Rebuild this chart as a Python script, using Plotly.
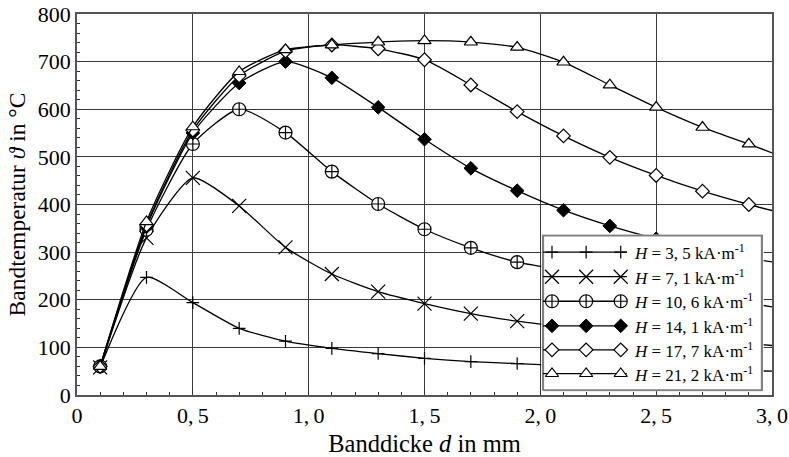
import plotly.graph_objects as go

# Band thickness d in mm (last value lies just beyond the axis end)
d = [0.1, 0.3, 0.5, 0.7, 0.9, 1.1, 1.3, 1.5, 1.7, 1.9, 2.1, 2.3, 2.5, 2.7, 2.9, 3.1]

# Band temperature in °C for each field strength H
t_h35 = [58, 247, 194, 140, 113, 98, 87, 77, 70, 66, 62, 59, 56, 53, 51, 49]
t_h71 = [58, 330, 456, 397, 310, 254, 217, 192, 171, 155, 143, 133, 124, 116, 108, 100]
t_h106 = [60, 347, 527, 600, 551, 469, 401, 348, 309, 279, 262, 243, 226, 210, 193, 177]
t_h141 = [60, 353, 550, 655, 700, 666, 604, 537, 476, 429, 388, 355, 328, 305, 287, 272]
t_h177 = [60, 357, 556, 670, 722, 735, 727, 704, 651, 595, 544, 499, 461, 428, 400, 375]
t_h212 = [60, 364, 563, 679, 725, 735, 741, 744, 741, 730, 699, 651, 604, 562, 527, 490]

labels = ["3, 5", "7, 1", "10, 6", "14, 1", "17, 7", "21, 2"]

x_tickvals = [0, 0.5, 1.0, 1.5, 2.0, 2.5, 3.0]
x_ticktext = ["0", "0,\u20095", "1,\u20090", "1,\u20095", "2,\u20090", "2,\u20095", "3,\u20090"]
y_tickvals = [0, 100, 200, 300, 400, 500, 600, 700, 800]

FONT = "Liberation Serif"

styles = [
    dict(symbol="cross-thin", size=9, color="black", line=dict(color="black", width=1.2)),
    dict(symbol="x-thin", size=14, color="black", line=dict(color="black", width=1.2)),
    dict(symbol="circle-cross", size=13, color="white", line=dict(color="black", width=1.2)),
    dict(symbol="diamond", size=10.5, color="black", line=dict(color="black", width=1)),
    dict(symbol="diamond", size=10.5, color="white", line=dict(color="black", width=1.2)),
    dict(symbol="triangle-up", size=11.5, color="white", line=dict(color="black", width=1.2)),
]
series = [t_h35, t_h71, t_h106, t_h141, t_h177, t_h212]

fig = go.Figure()

for temps, mk in zip(series, styles):
    fig.add_trace(go.Scatter(
        x=d, y=temps, mode="lines+markers",
        line=dict(color="black", width=1.3, shape="spline", smoothing=0.6),
        marker=mk, showlegend=False, cliponaxis=True,
    ))

# Legend box drawn on its own small subplot
fig.add_trace(go.Scatter(
    x=[0, 1, 1, 0, 0], y=[0, 0, 6, 6, 0], mode="lines", fill="toself",
    fillcolor="white", line=dict(color="#808080", width=2.2),
    xaxis="x2", yaxis="y2", showlegend=False, hoverinfo="skip",
))
row_y = [5.35, 4.4, 3.45, 2.5, 1.57, 0.65]
for ry, mk in zip(row_y, styles):
    fig.add_trace(go.Scatter(
        x=[0.0, 0.383], y=[ry, ry], mode="lines",
        line=dict(color="black", width=1.3),
        xaxis="x2", yaxis="y2", showlegend=False, hoverinfo="skip",
    ))
    fig.add_trace(go.Scatter(
        x=[0.041, 0.197, 0.355], y=[ry, ry, ry], mode="markers",
        marker=mk, xaxis="x2", yaxis="y2", showlegend=False,
        hoverinfo="skip", cliponaxis=False,
    ))

annotations = []
for ry, lab in zip(row_y, labels):
    annotations.append(dict(
        x=0.405, y=ry, xref="x2", yref="y2", xanchor="left", yanchor="middle",
        text=f"<i>H</i> = {lab} kA·m<sup>-1</sup>", showarrow=False,
        font=dict(family=FONT, size=17, color="black"),
    ))

axis_common = dict(
    showgrid=True, gridcolor="#3a3a3a", gridwidth=1,
    showline=True, linecolor="#555555", linewidth=1.5, mirror=True,
    ticks="inside", ticklen=6, tickcolor="#333333",
    tickfont=dict(family=FONT, size=22, color="black"),
    zeroline=False, automargin=False,
)

fig.update_layout(
    width=789, height=457,
    margin=dict(l=77, r=17, t=14, b=62),
    paper_bgcolor="white", plot_bgcolor="white",
    showlegend=False,
    xaxis=dict(
        range=[0, 3.0], tickvals=x_tickvals, ticktext=x_ticktext,
        minor=dict(dtick=0.1, ticks="inside", ticklen=3, tickcolor="#333333", showgrid=False),
        title=dict(text="Banddicke <i>d</i> in mm", font=dict(family=FONT, size=24.5, color="black"), standoff=9),
        **axis_common,
    ),
    yaxis=dict(
        range=[0, 800], tickvals=y_tickvals,
        minor=dict(dtick=20, ticks="inside", ticklen=3, tickcolor="#333333", showgrid=False),
        title=dict(text="Bandtemperatur <i>ϑ</i> in °C", font=dict(family=FONT, size=23.5, color="black"), standoff=6),
        **axis_common,
    ),
    xaxis2=dict(domain=[0.668, 0.988], range=[-0.008, 1.008], visible=False, anchor="y2", fixedrange=True),
    yaxis2=dict(domain=[0.010, 0.421], range=[-0.03, 6.03], visible=False, anchor="x2", fixedrange=True),
    annotations=annotations,
)

fig.write_html("out.html")
